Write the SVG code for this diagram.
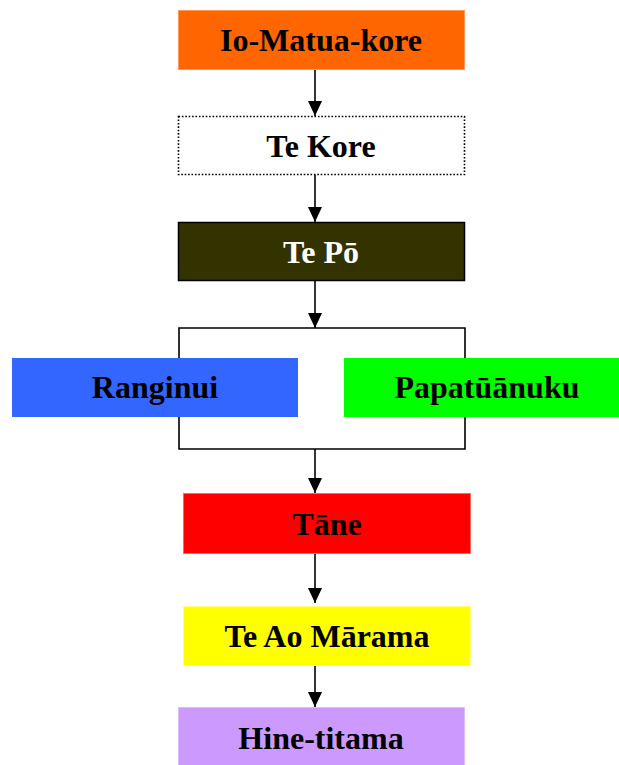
<svg xmlns="http://www.w3.org/2000/svg" width="619" height="765" viewBox="0 0 619 765">
  <style>
    .lbl { font-family: "Liberation Serif", "Times New Roman", serif; font-weight: bold; font-size: 32px; text-anchor: middle; fill: #000; }
    .light { fill: #fff; }
    .box { stroke-width: 1; }
    .conn { stroke: #000; stroke-width: 1.6; fill: none; }
  </style>
  <defs>
    <marker id="arrow" viewBox="0 0 15 14" refX="15" refY="7" markerWidth="15" markerHeight="14" markerUnits="userSpaceOnUse" orient="auto">
      <path d="M0,0 L15,7 L0,14 Z" fill="#000"/>
    </marker>
  </defs>
  <rect width="619" height="765" fill="#fff"/>

  <!-- connectors -->
  <g id="connectors">
    <line class="conn" x1="315" y1="70" x2="315" y2="116" marker-end="url(#arrow)"/>
    <line class="conn" x1="315" y1="175" x2="315" y2="222" marker-end="url(#arrow)"/>
    <line class="conn" x1="315" y1="281" x2="315" y2="328" marker-end="url(#arrow)"/>
    <!-- bracket around the parents -->
    <path class="conn" d="M179,358 V328 H465 V358"/>
    <path class="conn" d="M179,417 V449 H465 V417"/>
    <line class="conn" x1="315" y1="449" x2="315" y2="493" marker-end="url(#arrow)"/>
    <line class="conn" x1="315" y1="554" x2="315" y2="603" marker-end="url(#arrow)"/>
    <line class="conn" x1="315" y1="666" x2="315" y2="707" marker-end="url(#arrow)"/>
  </g>

  <g id="io-matua-kore">
    <rect class="box" x="178.5" y="10.5" width="286" height="59" fill="#FF6600" stroke="#FF9955"/>
    <text class="lbl" x="321" y="51">Io-Matua-kore</text>
  </g>

  <g id="te-kore">
    <rect x="178.5" y="116.5" width="286" height="58" fill="#fff" stroke="#000" stroke-width="1.6" stroke-dasharray="1.6 1.8"/>
    <text class="lbl" x="321" y="157">Te Kore</text>
  </g>

  <g id="te-po">
    <rect x="178.5" y="222.5" width="286" height="58" fill="#333300" stroke="#000" stroke-width="1.5"/>
    <text class="lbl light" x="321" y="263">Te Pō</text>
  </g>

  <g id="ranginui">
    <rect class="box" x="12" y="358" width="286" height="59" fill="#3366FF"/>
    <text class="lbl" x="155" y="398">Ranginui</text>
  </g>

  <g id="papatuanuku">
    <rect class="box" x="344" y="358" width="286" height="59" fill="#00FF00"/>
    <text class="lbl" x="487" y="398">Papatūānuku</text>
  </g>

  <g id="tane">
    <rect class="box" x="183.5" y="493.5" width="287" height="60" fill="#FF0000" stroke="#FF6666"/>
    <text class="lbl" x="327" y="535">Tāne</text>
  </g>

  <g id="te-ao-marama">
    <rect class="box" x="183.5" y="606.5" width="287" height="59" fill="#FFFF00" stroke="#FFFF88"/>
    <text class="lbl" x="327" y="647">Te Ao Mārama</text>
  </g>

  <g id="hine-titama">
    <rect class="box" x="178.5" y="707.5" width="286" height="60" fill="#CC99FF" stroke="#DDBBFF"/>
    <text class="lbl" x="321" y="749">Hine-titama</text>
  </g>
</svg>
